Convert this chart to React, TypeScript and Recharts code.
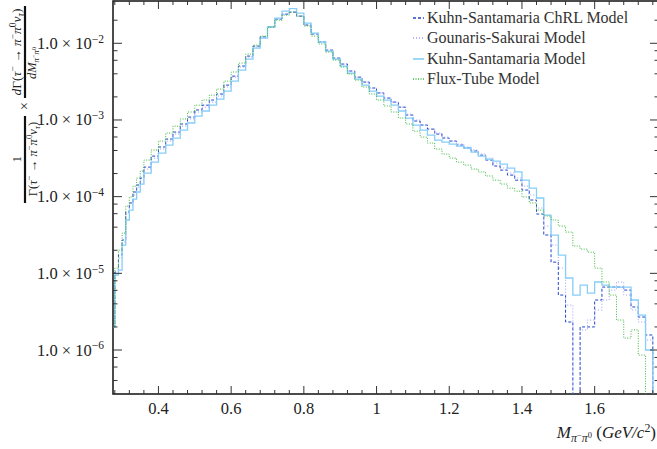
import { Line, LineChart, ReferenceArea, XAxis, YAxis } from 'recharts'

const SERIF = '"Liberation Serif", "Times New Roman", serif'
const WIDTH = 657
const HEIGHT = 449
const PLOT = { left: 113, right: 659, top: 1, bottom: 394 }

const X_MIN = 0.275
const X_MAX = 1.777
const Y_MIN = 2.67e-7
const Y_MAX = 0.0356
const ZERO_FLOOR = 1e-9

// histogram bin edges (GeV/c^2)
const BIN_EDGES = [
  0.275, 0.28, 0.29, 0.3, 0.31, 0.32, 0.33, 0.34, 0.35, 0.36,
  0.38, 0.4, 0.42, 0.44, 0.46, 0.48, 0.5, 0.52, 0.54, 0.56,
  0.58, 0.6, 0.62, 0.64, 0.66, 0.68, 0.7, 0.72, 0.74, 0.76,
  0.78, 0.8, 0.82, 0.84, 0.86, 0.88, 0.9, 0.92, 0.94, 0.96,
  0.98, 1.0, 1.02, 1.04, 1.06, 1.08, 1.1, 1.12, 1.14, 1.16,
  1.18, 1.2, 1.22, 1.24, 1.26, 1.28, 1.3, 1.32, 1.34, 1.36,
  1.38, 1.4, 1.42, 1.44, 1.46, 1.48, 1.5, 1.52, 1.54, 1.56,
  1.58, 1.6, 1.62, 1.64, 1.66, 1.68, 1.7, 1.72, 1.74, 1.76,
  1.777,
]

// one value per bin (0 = empty bin)
const CHRL = [
  2.0e-6, 1.04e-5, 1.73e-5, 2.72e-5, 6.3e-5, 8.27e-5, 1.15e-4, 1.42e-4, 1.75e-4,
  2.43e-4, 3.38e-4, 4.44e-4, 5.64e-4, 6.95e-4, 8.86e-4, 1.09e-3, 1.35e-3, 1.56e-3, 1.82e-3,
  2.18e-3, 2.85e-3, 3.73e-3, 5.05e-3, 6.81e-3, 9.18e-3, 1.21e-2, 1.63e-2, 2.07e-2, 2.4e-2,
  2.55e-2, 2.26e-2, 1.73e-2, 1.32e-2, 1.04e-2, 8.15e-3, 6.41e-3, 5.36e-3, 4.35e-3, 3.62e-3,
  3.12e-3, 2.61e-3, 2.25e-3, 1.93e-3, 1.71e-3, 1.47e-3, 1.16e-3, 9.69e-4, 8.59e-4, 7.6e-4,
  6.55e-4, 5.81e-4, 5.31e-4, 4.71e-4, 4.31e-4, 3.94e-4, 3.48e-4, 3.0e-4, 2.51e-4, 2.22e-4,
  1.91e-4, 1.64e-4, 1.22e-4, 9.04e-5, 5.93e-5, 3.16e-5, 1.4e-5, 5.21e-6, 2.32e-6, 0,
  2.0e-6, 2.0e-6, 4.49e-6, 6.62e-6, 6.62e-6, 6.62e-6, 6.05e-6, 3.64e-6, 2.69e-6, 1.57e-6,
  0,
]

const GOUNARIS = [
  2.0e-6, 9.51e-6, 1.58e-5, 2.56e-5, 5.93e-5, 7.76e-5, 1.05e-4, 1.33e-4, 1.64e-4,
  2.29e-4, 3.18e-4, 4.18e-4, 5.31e-4, 6.55e-4, 8.32e-4, 1.03e-3, 1.27e-3, 1.47e-3, 1.71e-3,
  2.05e-3, 2.69e-3, 3.62e-3, 4.9e-3, 6.61e-3, 8.91e-3, 1.21e-2, 1.63e-2, 2.07e-2, 2.4e-2,
  2.55e-2, 2.26e-2, 1.73e-2, 1.32e-2, 1.04e-2, 8.15e-3, 6.41e-3, 5.36e-3, 4.35e-3, 3.62e-3,
  3.12e-3, 2.61e-3, 2.25e-3, 1.93e-3, 1.71e-3, 1.47e-3, 1.19e-3, 1.0e-3, 8.59e-4, 7.6e-4,
  6.75e-4, 5.98e-4, 5.31e-4, 4.85e-4, 4.44e-4, 4.06e-4, 3.59e-4, 3.18e-4, 2.74e-4, 2.36e-4,
  2.03e-4, 1.75e-4, 1.37e-4, 1.05e-4, 7.1e-5, 4.14e-5, 2.34e-5, 1.17e-5, 3.86e-6, 0,
  1.83e-6, 2.46e-6, 3.33e-6, 4.49e-6, 6.05e-6, 7.71e-6, 5.21e-6, 3.33e-6, 2.32e-6, 1.35e-6,
  0,
]

const KUHN = [
  2.0e-6, 9.51e-6, 1.1e-5, 2.34e-5, 4.96e-5, 6.68e-5, 9.31e-5, 1.15e-4, 1.46e-4,
  2.03e-4, 2.82e-4, 3.7e-4, 4.71e-4, 5.81e-4, 7.38e-4, 9.13e-4, 1.12e-3, 1.31e-3, 1.56e-3,
  1.87e-3, 2.38e-3, 3.21e-3, 4.48e-3, 6.22e-3, 8.65e-3, 1.17e-2, 1.63e-2, 2.13e-2, 2.63e-2,
  2.83e-2, 2.47e-2, 1.83e-2, 1.36e-2, 1.04e-2, 7.91e-3, 6.22e-3, 5.05e-3, 4.09e-3, 3.41e-3,
  2.85e-3, 2.38e-3, 2.05e-3, 1.82e-3, 1.56e-3, 1.31e-3, 1.06e-3, 8.59e-4, 7.38e-4, 6.35e-4,
  5.47e-4, 5.15e-4, 4.85e-4, 4.57e-4, 4.31e-4, 3.81e-4, 3.38e-4, 3.09e-4, 2.91e-4, 2.66e-4,
  2.36e-4, 2.1e-4, 1.64e-4, 1.29e-4, 9.6e-5, 5.76e-5, 3.15e-5, 1.73e-5, 8.69e-6, 5.21e-6,
  7.04e-6, 5.53e-6, 7.71e-6, 7.04e-6, 6.62e-6, 6.62e-6, 6.62e-6, 4.49e-6, 2.86e-6, 1.0e-6,
  0,
]

const FLUX_TUBE = [
  2.0e-6, 1.17e-5, 2.01e-5, 3.35e-5, 7.53e-5, 9.89e-5, 1.37e-4, 1.75e-4, 2.16e-4,
  3.0e-4, 4.06e-4, 5.31e-4, 6.75e-4, 8.32e-4, 1.03e-3, 1.27e-3, 1.56e-3, 1.82e-3, 2.11e-3,
  2.53e-3, 3.21e-3, 4.22e-3, 5.52e-3, 7.23e-3, 9.46e-3, 1.24e-2, 1.63e-2, 2.0e-2, 2.33e-2,
  2.55e-2, 2.26e-2, 1.68e-2, 1.24e-2, 9.8e-3, 7.68e-3, 6.04e-3, 4.9e-3, 3.97e-3, 3.31e-3,
  2.69e-3, 2.18e-3, 1.82e-3, 1.52e-3, 1.27e-3, 1.06e-3, 8.86e-4, 7.16e-4, 5.98e-4, 5.0e-4,
  4.18e-4, 3.59e-4, 3.18e-4, 2.82e-4, 2.58e-4, 2.29e-4, 2.1e-4, 1.86e-4, 1.64e-4, 1.46e-4,
  1.29e-4, 1.18e-4, 9.89e-5, 8.27e-5, 6.68e-5, 5.59e-5, 4.96e-5, 4.14e-5, 3.45e-5, 2.27e-5,
  2.07e-5, 1.89e-5, 1.17e-5, 7.71e-6, 5.21e-6, 2.46e-6, 1.43e-6, 1.83e-6, 8.6e-7, 0,
  0,
]

const X_MAJOR = [0.4, 0.6, 0.8, 1, 1.2, 1.4, 1.6]
const X_MINOR: number[] = []
for (let i = 7; i <= 44; i++) if (i % 5 !== 0) X_MINOR.push(+(i * 0.04).toFixed(2))

const Y_MAJOR = [1e-6, 1e-5, 1e-4, 1e-3, 1e-2]
const Y_MINOR = [
  4e-7, 6e-7, 8e-7, 2e-6, 4e-6, 6e-6, 8e-6, 2e-5, 4e-5, 6e-5, 8e-5,
  2e-4, 4e-4, 6e-4, 8e-4, 2e-3, 4e-3, 6e-3, 8e-3, 2e-2,
]

const SERIES = [
  { key: 'chrl', name: 'Kuhn-Santamaria ChRL Model', values: CHRL, color: '#1f45c8', dash: '3 2', width: 1 },
  { key: 'gs', name: 'Gounaris-Sakurai Model', values: GOUNARIS, color: '#9c9cff', dash: '1 2', width: 1 },
  { key: 'ks', name: 'Kuhn-Santamaria Model', values: KUHN, color: '#86cdf7', dash: undefined, width: 1.3 },
  { key: 'flux', name: 'Flux-Tube Model', values: FLUX_TUBE, color: '#3cb83c', dash: '1 1.5', width: 1 },
]

// step-after rows: one per bin edge, the last edge repeats the last bin
const chartData = BIN_EDGES.map((x, i) => {
  const row: Record<string, number> = { x }
  for (const s of SERIES) {
    const v = s.values[Math.min(i, s.values.length - 1)]
    row[s.key] = v > 0 ? v : ZERO_FLOOR
  }
  return row
})

type Piece = { t: string; it?: boolean; lvl?: 'sup' | 'sub' | 'subsup' }
const LEVELS = {
  base: { dy: 0, k: 1 },
  sup: { dy: -0.38, k: 0.7 },
  sub: { dy: 0.25, k: 0.7 },
  subsup: { dy: 0.02, k: 0.5 },
}

function MathSpans({ pieces, size }: { pieces: Piece[]; size: number }) {
  let shift = 0
  return (
    <>
      {pieces.map((p, i) => {
        const lv = LEVELS[p.lvl ?? 'base']
        const target = lv.dy * size
        const dy = target - shift
        shift = target
        return (
          <tspan key={i} dy={dy} fontSize={size * lv.k} fontStyle={p.it ? 'italic' : 'normal'}>
            {p.t}
          </tspan>
        )
      })}
    </>
  )
}

const DECAY: Piece[] = [
  { t: 'Γ(' },
  { t: 'τ', it: true },
  { t: '−', lvl: 'sup' },
  { t: ' → ' },
  { t: 'π', it: true },
  { t: '−', lvl: 'sup' },
  { t: 'π', it: true },
  { t: '0', lvl: 'sup' },
  { t: 'ν', it: true },
  { t: 'τ', it: true, lvl: 'sub' },
  { t: ')' },
]
const MASS_SUB: Piece[] = [
  { t: 'π', it: true, lvl: 'sub' },
  { t: '−', lvl: 'subsup' },
  { t: 'π', it: true, lvl: 'sub' },
  { t: '0', lvl: 'subsup' },
]

function XTick(props: any) {
  const { x, payload } = props
  const v = payload.value as number
  const major = X_MAJOR.some((m) => Math.abs(m - v) < 1e-6)
  const len = major ? 8 : 4
  return (
    <g>
      <line x1={x} x2={x} y1={PLOT.bottom} y2={PLOT.bottom - len} stroke="#333" />
      <line x1={x} x2={x} y1={PLOT.top} y2={PLOT.top + len} stroke="#333" />
      {major && (
        <text x={x} y={PLOT.bottom + 20} textAnchor="middle" fontFamily={SERIF} fontSize={16.5} fill="#222">
          {String(Number(v.toFixed(2)))}
        </text>
      )}
    </g>
  )
}

function YTick(props: any) {
  const { y, payload } = props
  const v = payload.value as number
  const exp = Math.round(Math.log10(v))
  const major = Math.abs(Math.log10(v) - exp) < 1e-6
  const len = major ? 9 : 4.5
  return (
    <g>
      <line x1={PLOT.left} x2={PLOT.left + len} y1={y} y2={y} stroke="#333" />
      <line x1={PLOT.right - len} x2={PLOT.right} y1={y} y2={y} stroke="#333" />
      {major && (
        <text x={104} y={y + 5.5} textAnchor="end" fontFamily={SERIF} fontSize={16.5} fill="#222">
          <MathSpans size={16.5} pieces={[{ t: '1.0 × 10' }, { t: `−${-exp}`, lvl: 'sup' }]} />
        </text>
      )}
    </g>
  )
}

function XTitle() {
  return (
    <text x={656} y={438} textAnchor="end" fontFamily={SERIF} fontSize={17} fill="#222">
      <MathSpans
        size={17}
        pieces={[
          { t: 'M', it: true },
          ...MASS_SUB,
          { t: '  (' },
          { t: 'GeV/c', it: true },
          { t: '2', lvl: 'sup' },
          { t: ')' },
        ]}
      />
    </text>
  )
}

function YTitle() {
  return (
    <g transform="rotate(-90)" fontFamily={SERIF} fill="#222">
      <text x={-52} y={21} textAnchor="middle">
        <MathSpans size={13.5} pieces={[{ t: 'd', it: true }, ...DECAY]} />
      </text>
      <line x1={-6} x2={-98} y1={25} y2={25} stroke="#111" strokeWidth={2.2} />
      <text x={-63} y={36} textAnchor="middle">
        <MathSpans size={12.5} pieces={[{ t: 'd', it: true }, { t: 'M', it: true }, ...MASS_SUB]} />
      </text>
      <text x={-106} y={29} textAnchor="middle" fontSize={14}>
        ×
      </text>
      <text x={-159} y={21} textAnchor="middle" fontSize={12.5}>
        1
      </text>
      <line x1={-116} x2={-203} y1={25} y2={25} stroke="#111" strokeWidth={2.2} />
      <text x={-159} y={37} textAnchor="middle">
        <MathSpans size={12.5} pieces={DECAY} />
      </text>
    </g>
  )
}

function ModelLegend() {
  return (
    <div
      style={{
        position: 'absolute',
        left: 410,
        top: 8,
        fontFamily: SERIF,
        fontSize: 16,
        color: '#333',
        lineHeight: '20.3px',
      }}
    >
      {SERIES.map((s) => (
        <div key={s.key} style={{ display: 'flex', alignItems: 'center', height: 20.3 }}>
          <svg width={14} height={20}>
            <line
              x1={3}
              x2={14}
              y1={10}
              y2={10}
              stroke={s.color}
              strokeWidth={s.width + 0.3}
              strokeDasharray={s.dash}
            />
          </svg>
          <span style={{ marginLeft: 3, whiteSpace: 'nowrap' }}>{s.name}</span>
        </div>
      ))}
    </div>
  )
}

export default function App() {
  return (
    <div style={{ position: 'absolute', left: 0, top: 0, width: WIDTH, height: HEIGHT, background: '#fff' }}>
      <LineChart
        width={WIDTH}
        height={HEIGHT}
        data={chartData}
        margin={{ top: PLOT.top, right: WIDTH - PLOT.right, bottom: 0, left: 0 }}
      >
        <XAxis
          dataKey="x"
          type="number"
          domain={[X_MIN, X_MAX]}
          allowDataOverflow
          ticks={[...X_MAJOR, ...X_MINOR]}
          interval={0}
          height={HEIGHT - PLOT.bottom}
          axisLine={false}
          tickLine={false}
          tick={(p: any) => <XTick {...p} />}
          label={<XTitle />}
        />
        <YAxis
          type="number"
          scale="log"
          domain={[Y_MIN, Y_MAX]}
          allowDataOverflow
          ticks={[...Y_MAJOR, ...Y_MINOR]}
          interval={0}
          width={PLOT.left}
          axisLine={false}
          tickLine={false}
          tick={(p: any) => <YTick {...p} />}
          label={<YTitle />}
        />
        {SERIES.map((s) => (
          <Line
            key={s.key}
            dataKey={s.key}
            name={s.name}
            type="stepAfter"
            stroke={s.color}
            strokeWidth={s.width}
            strokeDasharray={s.dash}
            dot={false}
            activeDot={false}
            isAnimationActive={false}
          />
        ))}
        <ReferenceArea
          x1={X_MIN}
          x2={X_MAX}
          y1={Y_MIN}
          y2={Y_MAX}
          fill="none"
          stroke="#111"
          strokeWidth={1.5}
          ifOverflow="visible"
        />
      </LineChart>
      <ModelLegend />
    </div>
  )
}
